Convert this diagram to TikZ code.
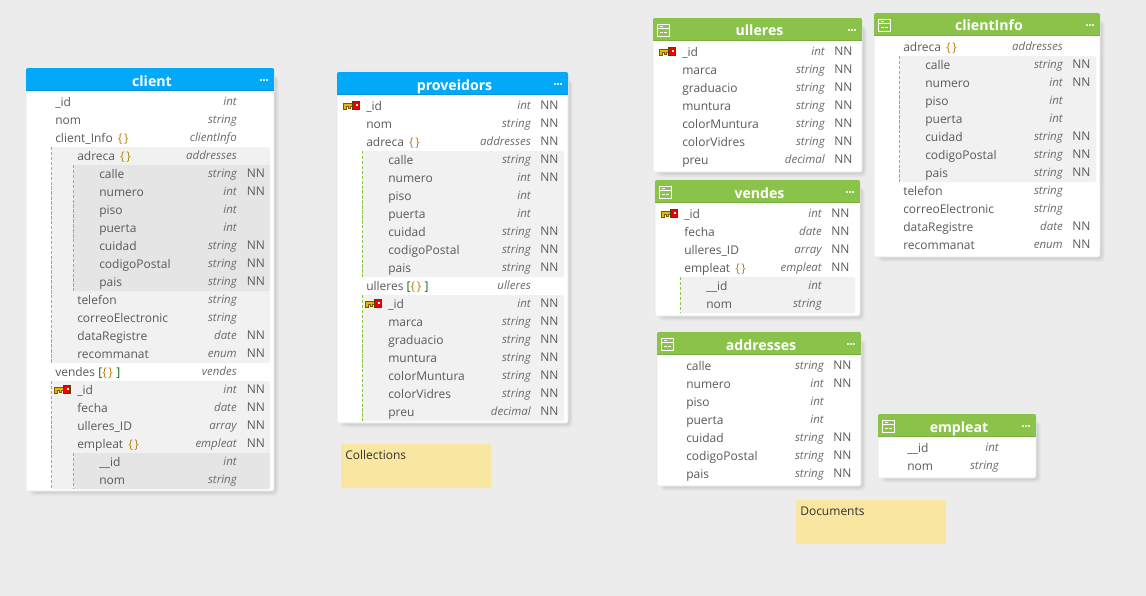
\documentclass[tikz,border=0pt]{standalone}
\usepackage{fontspec}
\setmainfont{Open Sans}
\definecolor{bgc}{HTML}{ECECEC}
\definecolor{bluec}{HTML}{03A9F9}
\definecolor{blued}{HTML}{0A93D6}
\definecolor{greenc}{HTML}{8BC34A}
\definecolor{greend}{HTML}{7BAF3F}
\definecolor{panela}{HTML}{F1F1F1}
\definecolor{panelb}{HTML}{E5E5E5}
\definecolor{txtc}{HTML}{5A5A5A}
\definecolor{typc}{HTML}{6A6A6A}
\definecolor{objc}{HTML}{B8860B}
\definecolor{arrc}{HTML}{0B6B0B}
\definecolor{notec}{HTML}{F9E6A0}
\definecolor{keyy}{HTML}{F0B400}
\definecolor{keyd}{HTML}{7A5A00}
\definecolor{keyr}{HTML}{EE0000}
\newcounter{fldno}
\newcommand{\Ob}{\textcolor{objc}{\{\kern1.2pt\}}}
\newcommand{\Ar}{\textcolor{arrc}{[}\textcolor{objc}{\{\kern1.2pt\}}\kern2.5pt\textcolor{arrc}{]}}
% {id}{x1}{y1}{x2}{y2}{fill}{edge}{title}
\newcommand{\Tbl}[8]{%
  \foreach \s/\o in {5/.02,4/.025,3/.03,2/.035}{%
    \fill[black,opacity=\o,rounded corners=3] (#2+8-\s,#3+8) rectangle (#4+\s,#5+\s);}%
  \fill[white,draw=panelb,line width=.4pt,rounded corners=1.5] (#2,#3) rectangle (#4,#5);
  \fill[#6,rounded corners=1.5] (#2,#3) rectangle (#4,#3+10);
  \fill[#6] (#2,#3+5) rectangle (#4,#3+23);
  \fill[#7] (#2,#3+22) rectangle (#4,#3+23);
  \node[titletxt] (#1) at ({(#2+#4)/2+2},#3+18) {#8};
  \foreach \d in {0,3,6}{\fill[white,opacity=.85] (#4-14+\d,#3+11) rectangle ++(1.6,1.6);}%
}
\newcommand{\Ico}[2]{%
  \draw[white,line width=.7pt] (#1,#2) rectangle ++(11.5,11.5);
  \draw[white,line width=.6pt] (#1,#2+4) -- ++(11.5,0) (#1+2.5,#2+2) -- ++(3,0);
  \draw[white,line width=.6pt] (#1+2.5,#2+8) -- ++(2.5,0) (#1+6.5,#2+8) -- ++(2.5,0);
}
\newcommand{\KeyI}[2]{%
  \filldraw[fill=keyy,draw=keyd,line width=.45pt] (#1,#2-2.5) -- ++(10,0) -- ++(0,3) -- ++(-3,0) -- ++(0,1.5) -- ++(-2,0) -- ++(0,-1.5) -- ++(-2,0) -- ++(0,2.5) -- ++(-3,0) -- cycle;
  \fill[keyr,draw=keyd!70!black,line width=.4pt] (#1+9.5,#2-4.5) rectangle ++(6.8,8);
  \fill[white] (#1+12.5,#2-2.5) rectangle ++(2,2);
}
% {y}{x}{name}{type}{nn}
\newcommand{\Fld}[5]{%
  \stepcounter{fldno}%
  \node[nametxt] (f\thefldno) at (#2,#1+4) {#3};
  \node[typetxt] (t\thefldno) at (\Tx,#1+3) {#4};
  \node[nametxt] (n\thefldno) at (\Nx,#1+3.5) {#5};
}
\newcommand{\Pan}[6]{\fill[#5,rounded corners=1] (#1,#2) rectangle (#3,#4);
  \ifx#6n\else\draw[greenc,line width=.8pt,dash pattern=on 2.6pt off 1.1pt] (#1,#2) -- (#1,#4);\fi}
\tikzset{
  nametxt/.style={anchor=base west,inner sep=0pt,text=txtc,font=\fontsize{9pt}{11pt}\selectfont},
  typetxt/.style={anchor=base east,inner sep=0pt,text=typc,font=\fontsize{8.6pt}{11pt}\selectfont\itshape},
  titletxt/.style={anchor=base,inner sep=0pt,text=white,font=\fontsize{10.6pt}{13pt}\selectfont\bfseries},
  notetxt/.style={anchor=base west,inner sep=0pt,text=black!80,font=\fontsize{9pt}{11pt}\selectfont},
}
\begin{document}
\begin{tikzpicture}[x=0.75pt,y=-0.75pt]
\useasboundingbox (0,0) rectangle (1146,596);
\fill[bgc] (0,0) rectangle (1146,596);
% client
\Tbl{client}{26}{68}{274}{491}{bluec}{blued}{client}
\def\Tx{237}\def\Nx{246.5}
\Pan{51.5}{147}{270}{363}{panela}{d}
\Pan{73.5}{165}{270}{291}{panelb}{d}
\Pan{51.5}{381}{270}{489}{panela}{d}
\Pan{73.5}{453}{270}{489}{panelb}{d}
\Fld{102}{55}{\_id}{int}{}
\Fld{120}{55}{nom}{string}{}
\Fld{138}{55}{client\_Info\, \Ob}{clientInfo}{}
\Fld{156}{77}{adreca\, \Ob}{addresses}{}
\Fld{174}{99}{calle}{string}{NN}
\Fld{192}{99}{numero}{int}{NN}
\Fld{210}{99}{piso}{int}{}
\Fld{228}{99}{puerta}{int}{}
\Fld{246}{99}{cuidad}{string}{NN}
\Fld{264}{99}{codigoPostal}{string}{NN}
\Fld{282}{99}{pais}{string}{NN}
\Fld{300}{77}{telefon}{string}{}
\Fld{318}{77}{correoElectronic}{string}{}
\Fld{336}{77}{dataRegistre}{date}{NN}
\Fld{354}{77}{recommanat}{enum}{NN}
\Fld{372}{55}{vendes \Ar}{vendes}{}
\KeyI{54}{390}
\Fld{390}{77}{\_id}{int}{NN}
\Fld{408}{77}{fecha}{date}{NN}
\Fld{426}{77}{ulleres\_ID}{array}{NN}
\Fld{444}{77}{empleat\, \Ob}{empleat}{NN}
\Fld{462}{99}{\_\_id}{int}{}
\Fld{480}{99}{nom}{string}{}
% proveidors
\Tbl{proveidors}{337}{72}{568}{423}{bluec}{blued}{proveidors}
\def\Tx{531}\def\Nx{540}
\Pan{362.5}{151}{564}{277}{panela}{d}
\Pan{362.5}{295}{564}{421}{panela}{d}
\KeyI{343}{106}
\Fld{106}{366}{\_id}{int}{NN}
\Fld{124}{366}{nom}{string}{NN}
\Fld{142}{366}{adreca\, \Ob}{addresses}{NN}
\Fld{160}{388}{calle}{string}{NN}
\Fld{178}{388}{numero}{int}{NN}
\Fld{196}{388}{piso}{int}{}
\Fld{214}{388}{puerta}{int}{}
\Fld{232}{388}{cuidad}{string}{NN}
\Fld{250}{388}{codigoPostal}{string}{NN}
\Fld{268}{388}{pais}{string}{NN}
\Fld{286}{366}{ulleres \Ar}{ulleres}{}
\KeyI{365}{304}
\Fld{304}{388}{\_id}{int}{NN}
\Fld{322}{388}{marca}{string}{NN}
\Fld{340}{388}{graduacio}{string}{NN}
\Fld{358}{388}{muntura}{string}{NN}
\Fld{376}{388}{colorMuntura}{string}{NN}
\Fld{394}{388}{colorVidres}{string}{NN}
\Fld{412}{388}{preu}{decimal}{NN}
% ulleres
\Tbl{ulleres}{653}{18}{862}{172}{greenc}{greend}{ulleres}
\Ico{657.5}{24.5}
\def\Tx{825}\def\Nx{834}
\KeyI{659}{52}
\Fld{52}{682}{\_id}{int}{NN}
\Fld{70}{682}{marca}{string}{NN}
\Fld{88}{682}{graduacio}{string}{NN}
\Fld{106}{682}{muntura}{string}{NN}
\Fld{124}{682}{colorMuntura}{string}{NN}
\Fld{142}{682}{colorVidres}{string}{NN}
\Fld{160}{682}{preu}{decimal}{NN}
% vendes
\Tbl{vendes}{655}{180}{860}{316}{greenc}{greend}{vendes}
\Ico{659.5}{186.5}
\def\Tx{822}\def\Nx{831}
\Pan{680.5}{277}{855}{313}{panela}{d}
\KeyI{661}{214}
\Fld{214}{684}{\_id}{int}{NN}
\Fld{232}{684}{fecha}{date}{NN}
\Fld{250}{684}{ulleres\_ID}{array}{NN}
\Fld{268}{684}{empleat\, \Ob}{empleat}{NN}
\Fld{286}{706}{\_\_id}{int}{}
\Fld{304}{706}{nom}{string}{}
% addresses
\Tbl{addresses}{657}{332}{861}{486}{greenc}{greend}{addresses}
\Ico{661.5}{338.5}
\def\Tx{824}\def\Nx{833}
\Fld{366}{686}{calle}{string}{NN}
\Fld{384}{686}{numero}{int}{NN}
\Fld{402}{686}{piso}{int}{}
\Fld{420}{686}{puerta}{int}{}
\Fld{438}{686}{cuidad}{string}{NN}
\Fld{456}{686}{codigoPostal}{string}{NN}
\Fld{474}{686}{pais}{string}{NN}
% clientInfo
\Tbl{clientInfo}{874}{13}{1100}{257}{greenc}{greend}{clientInfo}
\Ico{878.5}{19.5}
\def\Tx{1063}\def\Nx{1072}
\Pan{899.5}{56}{1096}{182}{panela}{d}
\Fld{47}{903}{adreca\, \Ob}{addresses}{}
\Fld{65}{925}{calle}{string}{NN}
\Fld{83}{925}{numero}{int}{NN}
\Fld{101}{925}{piso}{int}{}
\Fld{119}{925}{puerta}{int}{}
\Fld{137}{925}{cuidad}{string}{NN}
\Fld{155}{925}{codigoPostal}{string}{NN}
\Fld{173}{925}{pais}{string}{NN}
\Fld{191}{903}{telefon}{string}{}
\Fld{209}{903}{correoElectronic}{string}{}
\Fld{227}{903}{dataRegistre}{date}{NN}
\Fld{245}{903}{recommanat}{enum}{NN}
% empleat
\Tbl{empleat}{878}{414}{1036}{478}{greenc}{greend}{empleat}
\Ico{882.5}{420.5}
\def\Tx{999}\def\Nx{1010}
\Fld{448}{907}{\_\_id}{int}{}
\Fld{466}{907}{nom}{string}{}
% notes
\fill[notec,rounded corners=1] (341,444) rectangle (491,488);
\node[notetxt] (note1) at (345,459) {Collections};
\fill[notec,rounded corners=1] (796,500) rectangle (946,544);
\node[notetxt] (note2) at (800,515) {Documents};
\end{tikzpicture}
\end{document}
